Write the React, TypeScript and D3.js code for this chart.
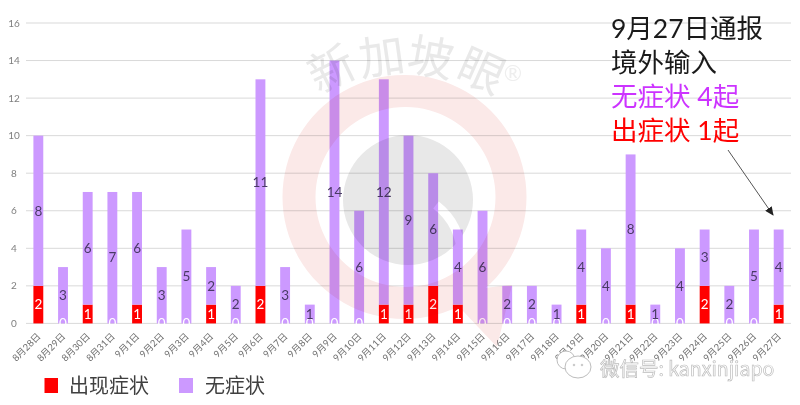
import React from "react";
import * as d3 from "d3";

const categories = ["8月28日","8月29日","8月30日","8月31日","9月1日","9月2日","9月3日","9月4日","9月5日","9月6日","9月7日","9月8日","9月9日","9月10日","9月11日","9月12日","9月13日","9月14日","9月15日","9月16日","9月17日","9月18日","9月19日","9月20日","9月21日","9月22日","9月23日","9月24日","9月25日","9月26日","9月27日"];
const symptomatic = [2,0,1,0,1,0,0,1,0,2,0,0,0,0,1,1,2,1,0,0,0,0,1,0,1,0,0,2,0,0,1];
const asymptomatic = [8,3,6,7,6,3,5,2,2,11,3,1,14,6,12,9,6,4,6,2,2,1,4,4,8,1,4,3,2,5,4];
const yTicks = [0,2,4,6,8,10,12,14,16];
const legendLabels = ["出现症状","无症状"];
const noteLines = ["9月27日通报","境外输入","无症状 4起","出症状 1起"];
const brandChars = ["新","加","坡","眼"];

const RED = "#ff0000", PURPLE = "#cc99ff";
const cjk = "'Noto Sans CJK SC', 'Noto Sans', sans-serif";
const latin = "Lato, 'Noto Sans CJK SC', sans-serif";

export default function App() {
  const x = d3.scaleBand<string>().domain(categories).range([26, 791]).paddingInner(0.6).paddingOuter(0.3);
  const y = d3.scaleLinear().domain([0, 16]).range([323.4, 23]);
  const bw = x.bandwidth();
  const brandPos = [[339, 84, -26], [384, 73, -8], [428, 74, 10], [475, 86, 24]];
  return (
    <svg width={800} height={405} style={{ position: "absolute", left: 0, top: 0, display: "block", background: "#fff", filter: "blur(0.45px)" }}>
      {yTicks.map(t => (
        <g key={t}>
          <line x1={26} x2={791} y1={y(t)} y2={y(t)} stroke="#d9d9d9" strokeWidth={1} />
          <text x={14} y={y(t) + 3.5} fontSize={10} fill="#7f7f7f" textAnchor="middle" fontFamily={latin}>{t}</text>
        </g>
      ))}
      {categories.map((c, i) => {
        const cx = x(c)! + bw / 2;
        const s = symptomatic[i], a = asymptomatic[i];
        return (
          <g key={c}>
            <rect x={x(c)} width={bw} y={y(s)} height={y(0) - y(s)} fill={RED} />
            <rect x={x(c)} width={bw} y={y(s + a)} height={y(s) - y(s + a)} fill={PURPLE} />
            <text x={cx} y={y(s / 2) + 4.8} fontSize={13.5} fill="#fff" textAnchor="middle" fontFamily={latin}>{s}</text>
            <text x={cx} y={y(s + a / 2) + 4.8} fontSize={13.5} fill="#4a3a66" textAnchor="middle" fontFamily={latin}>{a}</text>
            <text transform={`translate(${cx + 3},${337}) rotate(-45)`} fontSize={9.5} fill="#707070" textAnchor="end" fontFamily={latin}>{c}</text>
          </g>
        );
      })}
      {/* logo watermark */}
      <defs>
        <mask id="qcut">
          <rect x={300} y={100} width={220} height={200} fill="#fff" />
          <path d="M436 205 Q462 225 462 262" fill="none" stroke="#000" strokeWidth={9} />
        </mask>
        <marker id="arrow" markerWidth={9} markerHeight={8} refX={8} refY={4} orient="auto" markerUnits="userSpaceOnUse">
          <path d="M0 0 L9 4 L0 8 Z" fill="#222" />
        </marker>
      </defs>
      <g style={{ mixBlendMode: "multiply" }}>
        <path d="M405 75 A122 122 0 1 1 404 75 Z M405 107 A90 90 0 1 0 406 107 Z" fillRule="evenodd" fill="#fbe9e8" />
        <path d="M445 292 L497 347 L512 285 Z" fill="#fbe9e8" />
        <circle cx={408} cy={200} r={65} fill="#e8e8e8" mask="url(#qcut)" />
        {brandChars.map((ch, i) => (
          <text key={ch} transform={`translate(${brandPos[i][0]},${brandPos[i][1]}) rotate(${brandPos[i][2]})`} fontSize={46} textAnchor="middle" fill="#e9e9e9" fontFamily={cjk}>{ch}</text>
        ))}
        <text x={513} y={81} fontSize={22} textAnchor="middle" fill="#eeeeee" fontFamily={latin}>®</text>
      </g>
      {/* annotation */}
      {noteLines.map((l, i) => (
        <text key={l} x={611} y={[38, 72, 106, 140][i]} fontSize={26.5} fontFamily={latin} fill={["#1a1a1a", "#1a1a1a", "#cc33ff", RED][i]}>{l}</text>
      ))}
      <line x1={728} y1={150} x2={773} y2={215} stroke="#555" strokeWidth={1} markerEnd="url(#arrow)" />
      {/* legend */}
      <rect x={44.5} y={378} width={13.5} height={15} fill={RED} />
      <text x={69} y={393} fontSize={20} fontFamily={cjk} fill="#404040">{legendLabels[0]}</text>
      <rect x={179} y={378} width={14} height={15} fill={PURPLE} />
      <text x={205} y={393} fontSize={20} fontFamily={cjk} fill="#404040">{legendLabels[1]}</text>
      {/* wechat watermark */}
      <g fill="#fff" stroke="#bdbdbd" strokeWidth={1}>
        <ellipse cx={566} cy={360} rx={9} ry={9} />
        <ellipse cx={578} cy={367} rx={13} ry={11} />
        <circle cx={574} cy={365} r={0.8} />
        <circle cx={582} cy={365} r={0.8} />
        <text x={600} y={376} fontSize={19.5} fontFamily={cjk} strokeWidth={0.7}>微信号: kanxinjiapo</text>
      </g>
    </svg>
  );
}
